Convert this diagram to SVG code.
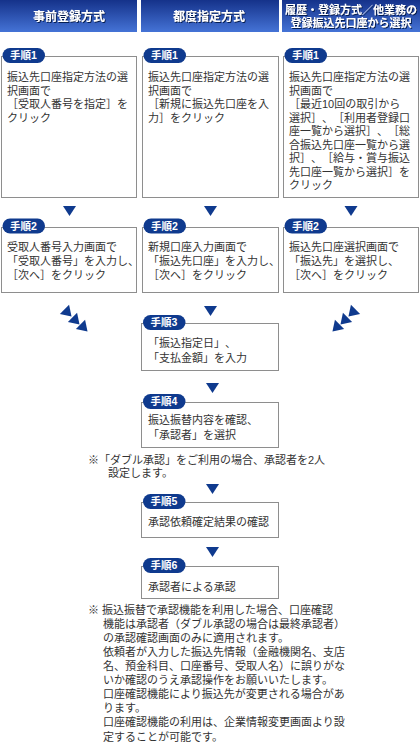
<svg xmlns="http://www.w3.org/2000/svg" width="420" height="755" viewBox="0 0 420 755">
<defs>
<linearGradient id="hg" x1="0" y1="0" x2="0" y2="1">
<stop offset="0" stop-color="#15328a"/>
<stop offset="1" stop-color="#4573d6"/>
</linearGradient>
<filter id="sh" x="-10%" y="-30%" width="120%" height="160%">
<feDropShadow dx="1" dy="1" stdDeviation="0.4" flood-color="#061844" flood-opacity="0.9"/>
</filter>
<path id="tri" d="M-6.5,-5 L6.5,-5 L0,5 Z"/>
</defs>
<style>
text{text-spacing-trim:space-all}
.hd{fill:url(#hg)}
.ht{font-family:"Liberation Sans","Noto Sans CJK JP","Noto Sans CJK SC",sans-serif;font-weight:bold;fill:#fff;text-anchor:middle;filter:url(#sh)}
.box{fill:#fff;stroke:#8e8e8e;stroke-width:1}
.bd{fill:#0f3a8e}
.bt{font-family:"Liberation Sans","Noto Sans CJK JP",sans-serif;font-weight:bold;font-size:10.5px;fill:#fff;text-anchor:middle}
.tx{font-family:"Liberation Sans","Noto Sans CJK JP","Noto Sans CJK SC",sans-serif;font-size:11px;fill:#333}
.ar{fill:#0f3a8e}
</style>
<rect width="420" height="755" fill="#fff"/>
<g id="header">
<rect class="hd" x="0" y="0" width="137" height="32"/>
<rect class="hd" x="141" y="0" width="138" height="32"/>
<rect class="hd" x="282" y="0" width="138" height="32"/>
<text class="ht" x="69" y="20.5" font-size="12">事前登録方式</text>
<text class="ht" x="209" y="20.5" font-size="12">都度指定方式</text>
<text class="ht" font-size="11"><tspan x="351" y="14">履歴・登録方式／他業務の</tspan><tspan x="351" y="27">登録振込先口座から選択</tspan></text>
</g>
<g id="connectors">
<use href="#tri" class="ar" x="69.5" y="211"/>
<use href="#tri" class="ar" x="210.5" y="211"/>
<use href="#tri" class="ar" x="351" y="211"/>
<use href="#tri" class="ar" transform="translate(68,313) rotate(-45)"/>
<use href="#tri" class="ar" transform="translate(76,321) rotate(-45)"/>
<use href="#tri" class="ar" transform="translate(84,328) rotate(-45)"/>
<use href="#tri" class="ar" transform="translate(352,313) rotate(45)"/>
<use href="#tri" class="ar" transform="translate(344,321) rotate(45)"/>
<use href="#tri" class="ar" transform="translate(336,328) rotate(45)"/>
<use href="#tri" class="ar" x="210.5" y="311"/>
<use href="#tri" class="ar" x="212.5" y="388"/>
<use href="#tri" class="ar" x="212.5" y="489"/>
<use href="#tri" class="ar" x="212.5" y="552"/>
</g>
<g id="a1">
<rect class="box" x="1.5" y="56.5" width="135" height="141"/>
<rect class="bd" x="2.5" y="48" width="42.5" height="15" rx="7.5"/>
<text class="bt" x="23.5" y="59.3">手順1</text>
<text class="tx"><tspan x="7" y="81">振込先口座指定方法の選</tspan><tspan x="7" y="94.5">択画面で</tspan><tspan x="7" y="108">［受取人番号を指定］を</tspan><tspan x="7" y="121.5">クリック</tspan></text>
</g>
<g id="b1">
<rect class="box" x="142.5" y="56.5" width="136" height="141"/>
<rect class="bd" x="143.5" y="48" width="42.5" height="15" rx="7.5"/>
<text class="bt" x="164.5" y="59.3">手順1</text>
<text class="tx"><tspan x="148" y="81">振込先口座指定方法の選</tspan><tspan x="148" y="94.5">択画面で</tspan><tspan x="148" y="108">［新規に振込先口座を入</tspan><tspan x="148" y="121.5">力］をクリック</tspan></text>
</g>
<g id="c1">
<rect class="box" x="283.5" y="56.5" width="135" height="141"/>
<rect class="bd" x="284.5" y="48" width="42.5" height="15" rx="7.5"/>
<text class="bt" x="305.5" y="59.3">手順1</text>
<text class="tx"><tspan x="289" y="81">振込先口座指定方法の選</tspan><tspan x="289" y="94.5">択画面で</tspan><tspan x="289" y="108">［最近10回の取引から</tspan><tspan x="289" y="121.5">選択］、［利用者登録口</tspan><tspan x="289" y="135">座一覧から選択］、［総</tspan><tspan x="289" y="148.5">合振込先口座一覧から選</tspan><tspan x="289" y="162">択］、［給与・賞与振込</tspan><tspan x="289" y="175.5">先口座一覧から選択］を</tspan><tspan x="289" y="189">クリック</tspan></text>
</g>
<g id="a2">
<rect class="box" x="1.5" y="227.5" width="135" height="65"/>
<rect class="bd" x="2.5" y="218.5" width="42.5" height="15" rx="7.5"/>
<text class="bt" x="23.5" y="229.8">手順2</text>
<text class="tx"><tspan x="7" y="251">受取人番号入力画面で</tspan><tspan x="7" y="265">「受取人番号」を入力し、</tspan><tspan x="7" y="279">［次へ］をクリック</tspan></text>
</g>
<g id="b2">
<rect class="box" x="142.5" y="227.5" width="136" height="65"/>
<rect class="bd" x="143.5" y="218.5" width="42.5" height="15" rx="7.5"/>
<text class="bt" x="164.5" y="229.8">手順2</text>
<text class="tx"><tspan x="148" y="251">新規口座入力画面で</tspan><tspan x="148" y="265">「振込先口座」を入力し、</tspan><tspan x="148" y="279">［次へ］をクリック</tspan></text>
</g>
<g id="c2">
<rect class="box" x="283.5" y="227.5" width="135" height="65"/>
<rect class="bd" x="284.5" y="218.5" width="42.5" height="15" rx="7.5"/>
<text class="bt" x="305.5" y="229.8">手順2</text>
<text class="tx"><tspan x="289" y="251">振込先口座選択画面で</tspan><tspan x="289" y="265">「振込先」を選択し、</tspan><tspan x="289" y="279">［次へ］をクリック</tspan></text>
</g>
<g id="s3">
<rect class="box" x="141.5" y="323.5" width="137" height="47"/>
<rect class="bd" x="143" y="315" width="42.5" height="15" rx="7.5"/>
<text class="bt" x="164" y="326.3">手順3</text>
<text class="tx"><tspan x="148" y="347">「振込指定日」、</tspan><tspan x="148" y="362">「支払金額」を入力</tspan></text>
</g>
<g id="s4">
<rect class="box" x="141.5" y="402.5" width="137" height="45"/>
<rect class="bd" x="143" y="394" width="42.5" height="15" rx="7.5"/>
<text class="bt" x="164" y="405.3">手順4</text>
<text class="tx"><tspan x="148" y="424">振込振替内容を確認、</tspan><tspan x="148" y="439">「承認者」を選択</tspan></text>
</g>
<g id="note1">
<text class="tx"><tspan x="88" y="464">※「ダブル承認」をご利用の場合、承認者を2人</tspan><tspan x="108" y="477">設定します。</tspan></text>
</g>
<g id="s5">
<rect class="box" x="141.5" y="502.5" width="137" height="35"/>
<rect class="bd" x="143" y="494" width="42.5" height="15" rx="7.5"/>
<text class="bt" x="164" y="505.3">手順5</text>
<text class="tx" x="148" y="526">承認依頼確定結果の確認</text>
</g>
<g id="s6">
<rect class="box" x="141.5" y="566.5" width="137" height="32"/>
<rect class="bd" x="143" y="558" width="42.5" height="15" rx="7.5"/>
<text class="bt" x="164" y="569.3">手順6</text>
<text class="tx" x="148" y="591">承認者による承認</text>
</g>
<g id="note2">
<text class="tx"><tspan x="88" y="614">※ 振込振替で承認機能を利用した場合、口座確認</tspan><tspan x="103" y="628">機能は承認者（ダブル承認の場合は最終承認者）</tspan><tspan x="103" y="642">の承認確認画面のみに適用されます。</tspan><tspan x="103" y="656">依頼者が入力した振込先情報（金融機関名、支店</tspan><tspan x="103" y="670">名、預金科目、口座番号、受取人名）に誤りがな</tspan><tspan x="103" y="684">いか確認のうえ承認操作をお願いいたします。</tspan><tspan x="103" y="698">口座確認機能により振込先が変更される場合があ</tspan><tspan x="103" y="712">ります。</tspan><tspan x="103" y="726">口座確認機能の利用は、企業情報変更画面より設</tspan><tspan x="103" y="741">定することが可能です。</tspan></text>
</g>
</svg>
